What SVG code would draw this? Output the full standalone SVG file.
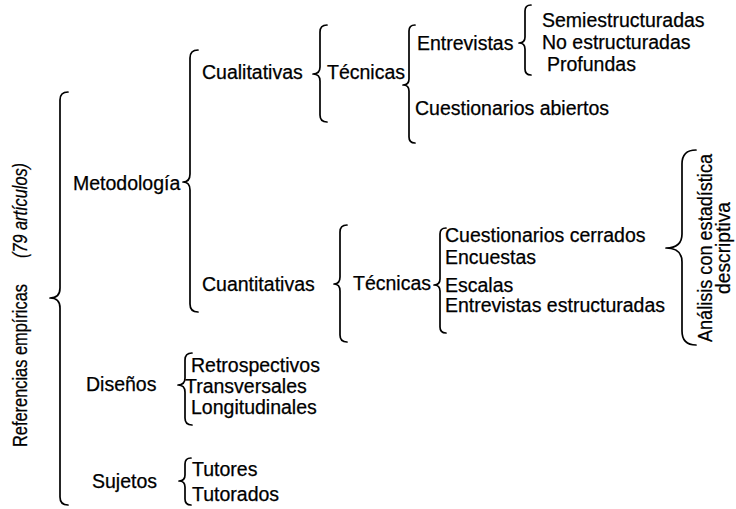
<svg xmlns="http://www.w3.org/2000/svg" width="736" height="509" viewBox="0 0 736 509">
<style>
text{font-family:"Liberation Sans",Arial,"DejaVu Sans",sans-serif;font-size:19.5px;fill:#000;stroke:#000;stroke-width:0.25}
.v{font-size:21px}
.it{font-style:italic}
.br{fill:none;stroke:#000;stroke-width:1.7;stroke-linecap:round;stroke-linejoin:round}
</style>
<rect width="736" height="509" fill="#fff"/>
<g id="connectors">
<path class="br" d="M68 92 Q60 92 60 100 L60 288 Q60 298 50 298 Q60 298 60 308 L60 497 Q60 505 68 505"/>
<path class="br" d="M198 50 Q190 50 190 58 L190 174 Q190 182 183 182 Q190 182 190 190 L190 304 Q190 312 198 312"/>
<path class="br" d="M327 25 Q320 25 320 32 L320 67 Q320 74 313 74 Q320 74 320 81 L320 115 Q320 122 327 122"/>
<path class="br" d="M415 25 Q409 25 409 31 L409 79 Q409 85 403 85 Q409 85 409 91 L409 137 Q409 143 415 143"/>
<path class="br" d="M531 5 Q525 5 525 11 L525 37 Q525 43 519 43 Q525 43 525 49 L525 69 Q525 75 531 75"/>
<path class="br" d="M347 225 Q340 225 340 232 L340 277 Q340 284 334 284 Q340 284 340 291 L340 335 Q340 342 347 342"/>
<path class="br" d="M446 228 Q440 228 440 234 L440 279 Q440 285 434 285 Q440 285 440 291 L440 327 Q440 333 446 333"/>
<path class="br" d="M696 150 Q682 150 682 164 L682 234 Q682 248 666 248 Q682 248 682 262 L682 331 Q682 345 696 345"/>
<path class="br" d="M192 353 Q185 353 185 360 L185 378 Q185 385 178 385 Q185 385 185 392 L185 418 Q185 425 192 425"/>
<path class="br" d="M191 458 Q185 458 185 464 L185 475 Q185 481 179 481 Q185 481 185 487 L185 499 Q185 505 191 505"/>
</g>
<g id="root">
<text class="v" transform="translate(27,447) rotate(-90)" textLength="163" lengthAdjust="spacingAndGlyphs">Referencias empíricas</text>
<text class="v it" transform="translate(27,258) rotate(-90)" textLength="95" lengthAdjust="spacingAndGlyphs">(79 artículos)</text>
</g>
<g id="metodologia"><text x="73" y="190">Metodología</text></g>
<g id="cualitativas"><text x="202" y="79">Cualitativas</text></g>
<g id="tecnicas-cual"><text x="327" y="79">Técnicas</text></g>
<g id="entrevistas"><text x="417" y="50">Entrevistas</text></g>
<g id="semiestructuradas"><text x="542" y="27">Semiestructuradas</text></g>
<g id="no-estructuradas"><text x="542" y="49">No estructuradas</text></g>
<g id="profundas"><text x="547" y="71">Profundas</text></g>
<g id="cuestionarios-abiertos"><text x="415" y="115">Cuestionarios abiertos</text></g>
<g id="cuantitativas"><text x="202" y="291">Cuantitativas</text></g>
<g id="tecnicas-cuant"><text x="353" y="290">Técnicas</text></g>
<g id="cuestionarios-cerrados"><text x="445" y="242">Cuestionarios cerrados</text></g>
<g id="encuestas"><text x="445" y="264">Encuestas</text></g>
<g id="escalas"><text x="445" y="292">Escalas</text></g>
<g id="entrevistas-estructuradas"><text x="445" y="312">Entrevistas estructuradas</text></g>
<g id="analisis">
<text class="v" transform="translate(712,248) rotate(-90)" text-anchor="middle" textLength="188" lengthAdjust="spacingAndGlyphs">Análisis con estadística</text>
<text class="v" transform="translate(730,248) rotate(-90)" text-anchor="middle" textLength="92" lengthAdjust="spacingAndGlyphs">descriptiva</text>
</g>
<g id="disenos"><text x="86" y="391">Diseños</text></g>
<g id="retrospectivos"><text x="191" y="372">Retrospectivos</text></g>
<g id="transversales"><text x="185" y="393">Transversales</text></g>
<g id="longitudinales"><text x="191" y="414">Longitudinales</text></g>
<g id="sujetos"><text x="92" y="488">Sujetos</text></g>
<g id="tutores"><text x="192" y="476">Tutores</text></g>
<g id="tutorados"><text x="192" y="501">Tutorados</text></g>
</svg>
